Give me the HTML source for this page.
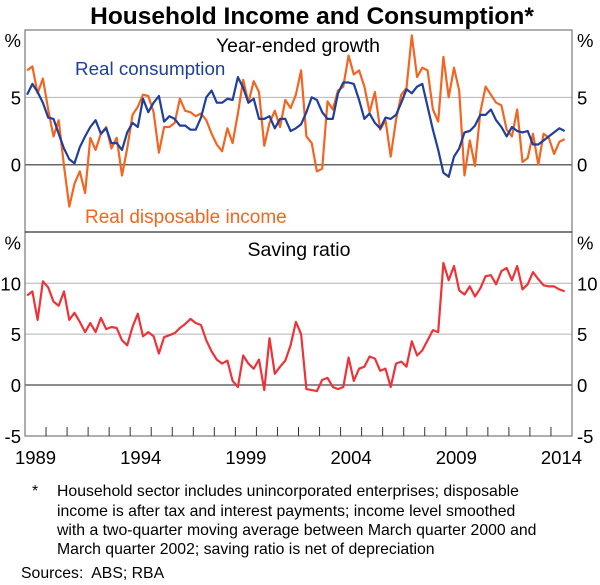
<!DOCTYPE html>
<html><head><meta charset="utf-8">
<style>
html,body{margin:0;padding:0;background:#fff;}
body{width:600px;height:580px;overflow:hidden;font-family:"Liberation Sans",Arial,sans-serif;}
svg text{font-family:"Liberation Sans",Arial,sans-serif;}
</style></head>
<body>
<svg id="chart" width="600" height="580" xmlns="http://www.w3.org/2000/svg">
<text x="312" y="24" text-anchor="middle" font-size="24.5" font-weight="bold" fill="#000">Household Income and Consumption*</text>
<g id="grid"></g>
<g id="series"></g>
<g id="axes"></g>
<text x="298" y="52" text-anchor="middle" font-size="19.5" fill="#000">Year-ended growth</text>
<text x="75" y="75" font-size="18.8" fill="#1f3f9a">Real consumption</text>
<text x="85" y="223" font-size="19" fill="#f26522">Real disposable income</text>
<text x="299" y="256" text-anchor="middle" font-size="19.5" fill="#000">Saving ratio</text>
<g font-size="15.8" fill="#000">
<text x="32" y="496">*</text>
<text x="57" y="496">Household sector includes unincorporated enterprises; disposable</text>
<text x="57" y="516">income is after tax and interest payments; income level smoothed</text>
<text x="57" y="535">with a two-quarter moving average between March quarter 2000 and</text>
<text x="57" y="554">March quarter 2002; saving ratio is net of depreciation</text>
</g>
<text x="21" y="578" font-size="15.8" fill="#000" xml:space="preserve">Sources:  ABS; RBA</text>
</svg>
<script>
const consumption=[5.2,6.0,5.4,4.6,3.5,3.4,2.3,1.2,0.4,0.1,1.3,2.1,2.8,3.3,2.3,2.7,1.6,1.6,1.1,2.4,3.1,2.8,4.9,3.9,4.6,5.1,3.2,3.6,3.4,2.9,2.9,2.6,2.6,3.5,5.0,5.5,4.6,4.6,4.9,4.8,6.5,5.7,4.6,4.9,3.4,3.4,3.6,2.7,3.4,3.4,2.5,2.7,3.0,3.9,5.0,4.8,3.9,3.4,3.4,5.3,6.1,6.1,6.0,4.8,3.4,3.8,3.1,2.7,3.5,3.4,3.7,4.6,5.6,5.3,5.8,6.0,4.3,2.6,1.1,-0.6,-0.9,0.6,1.2,2.4,2.5,2.9,3.7,3.7,4.1,3.3,2.8,2.1,2.8,2.5,2.4,2.5,1.5,1.5,1.8,2.1,2.4,2.7,2.5];
const income=[7.0,7.3,5.3,6.4,4.1,2.1,3.3,-0.1,-3.1,-1.4,-0.5,-2.1,2.0,1.1,2.3,2.8,1.2,2.0,-0.8,1.2,3.7,4.3,5.2,5.1,3.9,0.9,2.8,2.8,3.1,4.9,4.0,3.9,3.6,3.8,3.3,2.3,1.5,1.0,2.7,1.6,3.8,6.3,4.6,6.2,5.4,1.4,3.1,4.0,2.8,4.8,4.2,5.2,7.0,2.1,1.6,-0.5,-0.3,4.7,4.1,5.5,5.8,8.1,6.7,7.0,5.8,3.9,5.4,2.6,3.3,0.6,3.3,5.2,5.7,9.6,6.5,7.2,7.0,4.1,3.2,8.0,5.0,7.2,5.5,-0.8,1.8,-0.1,3.9,5.8,5.2,4.6,4.4,2.6,2.1,4.1,0.2,0.5,2.3,0.0,2.3,2.0,0.8,1.7,1.9];
const savingRatio=[8.8,9.2,6.4,10.2,9.6,8.2,7.8,9.2,6.4,7.1,6.2,5.2,6.1,5.2,6.6,5.5,5.7,5.6,4.4,3.9,5.7,7.0,4.8,5.2,4.8,3.1,4.7,4.9,5.1,5.6,6.0,6.5,6.1,5.9,4.4,3.3,2.5,2.1,2.4,0.4,-0.2,2.9,2.1,1.6,2.5,-0.5,4.6,1.1,1.8,2.4,3.9,6.2,5.0,-0.4,-0.5,-0.6,0.5,0.7,-0.2,-0.4,-0.2,2.7,0.4,1.6,1.8,2.8,2.6,1.4,1.6,-0.2,2.1,2.3,1.8,4.3,2.9,3.4,4.4,5.4,5.2,12.0,10.3,11.7,9.3,8.9,9.7,8.7,9.5,10.7,10.8,9.9,11.2,11.5,10.3,11.7,9.4,9.9,11.1,10.4,9.8,9.7,9.7,9.4,9.2];
const yearLabels=["1989","1994","1999","2004","2009","2014"];
const topTicks=[10,5,0,-5];
const bottomTicks=[15,10,5,0,-5];
const firstDate=1989.1, lastDate=2014.65;

const NS="http://www.w3.org/2000/svg";
const X0=25,X1=572,Y0=1989,Y1=2015;
const x=t=>X0+(t-Y0)*(X1-X0)/(Y1-Y0);
const yTop=v=>164.7-v*13.47;
const yBot=v=>385-v*10.17;
function mk(tag,attrs,parent){const e=document.createElementNS(NS,tag);for(const k in attrs)e.setAttribute(k,attrs[k]);parent.appendChild(e);return e;}
const grid=document.getElementById('grid'),ser=document.getElementById('series'),ax=document.getElementById('axes');

[5].forEach(v=>{const l=mk('line',{x1:X0,x2:X1,y1:yTop(v),y2:yTop(v),stroke:'#b4b4b4','stroke-width':1},grid);

});
[10,5].forEach(v=>{const l=mk('line',{x1:X0,x2:X1,y1:yBot(v),y2:yBot(v),stroke:'#b4b4b4','stroke-width':1},grid);

});
let z=mk('line',{x1:X0,x2:X1,y1:yTop(0),y2:yTop(0),stroke:'#666','stroke-width':1.5},grid);


z=mk('line',{x1:X0,x2:X1,y1:yBot(0),y2:yBot(0),stroke:'#666','stroke-width':1.5},grid);



function dateAt(i,n){return firstDate+i*(lastDate-firstDate)/(n-1);}
function line(arr,yf,color,name){
  const d=arr.map((v,i)=>(i?'L':'M')+x(dateAt(i,arr.length)).toFixed(1)+','+yf(v).toFixed(1)).join('');
  const p=mk('path',{d:d,fill:'none',stroke:color,'stroke-width':2.2,'stroke-linejoin':'round'},ser);
  
  
}
line(income,yTop,'#f26522','real-disposable-income-line');
line(consumption,yTop,'#1f3f9a','real-consumption-line');
line(savingRatio,yBot,'#ee3338','saving-ratio-line');

const fr=mk('rect',{x:X0,y:30,width:X1-X0,height:436-30,fill:'none',stroke:'#777','stroke-width':1.2},ax);


const dv=mk('line',{x1:X0,x2:X1,y1:232,y2:232,stroke:'#333','stroke-width':1.3},ax);


for(let yr=1990;yr<=2014;yr++){const t=mk('line',{x1:x(yr),x2:x(yr),y1:436,y2:427,stroke:'#333','stroke-width':1},ax);

}
yearLabels.forEach(s=>{const t=mk('text',{x:x(+s+0.5),y:464,'text-anchor':'middle','font-size':18.5,fill:'#000'},ax);t.textContent=s;

});
function ylab(v,yy,side,name){
  const t=mk('text',{x:side==='L'?21:577,y:yy+7,'text-anchor':side==='L'?'end':'start','font-size':18.5,fill:'#000'},ax);
  t.textContent=v;
  
  
}
topTicks.forEach(v=>{if(v===10||v===-5)return;ylab(v,yTop(v),'L','top-y-left-'+v);ylab(v,yTop(v),'R','top-y-right-'+v);});
bottomTicks.forEach(v=>{if(v===15)return;ylab(v,yBot(v),'L','bottom-y-left-'+v);ylab(v,yBot(v),'R','bottom-y-right-'+v);});
[['L',yTop(10)+16,'top-unit-left'],['R',yTop(10)+16,'top-unit-right'],['L',yBot(15)+16,'bottom-unit-left'],['R',yBot(15)+16,'bottom-unit-right']].forEach(a=>ylab('%',a[1]-6,a[0],a[2]));
</script>
</body></html>
